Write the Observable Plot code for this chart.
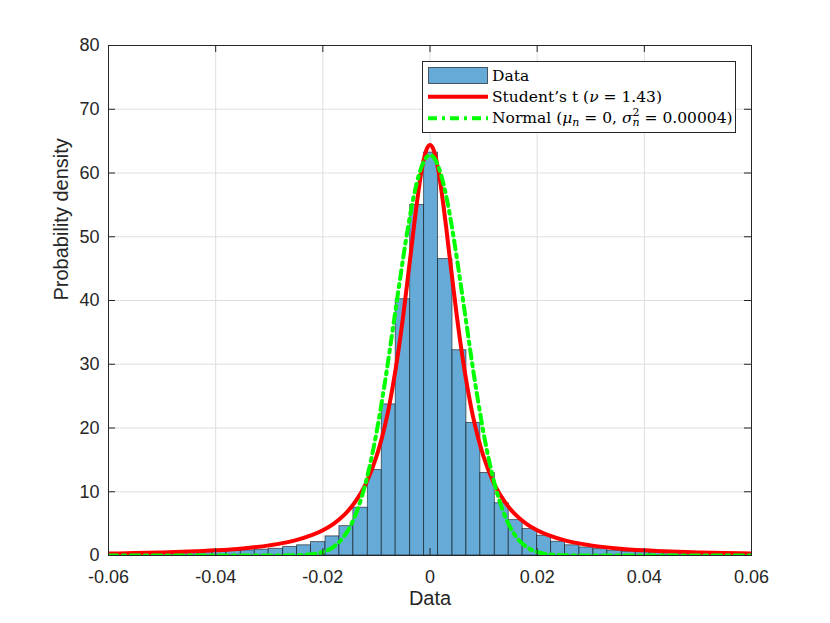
<!DOCTYPE html>
<html>
<head>
<meta charset="utf-8">
<script src="https://cdn.jsdelivr.net/npm/d3@7"></script>
<script src="https://cdn.jsdelivr.net/npm/@observablehq/plot@0.6"></script>
<style>
body { margin: 0; background: #fff; }
</style>
</head>
<body>
<div id="chart"></div>
<script>
// Histogram bin edges (data units) and normalized heights (probability density)
const binEdges = [-0.0617, -0.0590, -0.0564, -0.0538, -0.0511, -0.0485, -0.0459, -0.0432,
  -0.0406, -0.0380, -0.0353, -0.0327, -0.0301, -0.0274, -0.0248, -0.0222, -0.0195, -0.0169,
  -0.0143, -0.0116, -0.0090, -0.0064, -0.0037, -0.0011, 0.0015, 0.0042, 0.0068, 0.0094,
  0.0121, 0.0147, 0.0173, 0.0200, 0.0226, 0.0252, 0.0279, 0.0305, 0.0331, 0.0358, 0.0384,
  0.0410, 0.0437, 0.0463, 0.0489, 0.0516, 0.0542, 0.0568, 0.0595, 0.0621];
const binHeights = [0.28, 0.30, 0.32, 0.35, 0.38, 0.42, 0.47, 0.53, 0.60, 0.70, 0.80, 0.92,
  1.05, 1.35, 1.60, 2.10, 3.00, 4.60, 7.50, 13.4, 23.7, 40.2, 55.0, 63.2, 46.5, 32.2, 20.8,
  12.95, 8.20, 5.55, 4.15, 3.10, 2.15, 1.60, 1.26, 1.00, 0.76, 0.60, 0.52, 0.46, 0.41, 0.37,
  0.34, 0.31, 0.29, 0.27, 0.25];

// Student's t fit curve
const tX = [-0.06, -0.055, -0.05, -0.045, -0.04, -0.035, -0.03, -0.025, -0.02, -0.018, -0.016,
  -0.014, -0.012, -0.01, -0.009, -0.008, -0.007, -0.006, -0.005, -0.004, -0.0035, -0.003,
  -0.0025, -0.002, -0.0015, -0.001, -0.0005, 0, 0.0005, 0.001, 0.0015, 0.002, 0.0025, 0.003,
  0.0035, 0.004, 0.005, 0.006, 0.007, 0.008, 0.009, 0.01, 0.012, 0.014, 0.016, 0.018, 0.02,
  0.025, 0.03, 0.035, 0.04, 0.045, 0.05, 0.055, 0.06];
const tY = [0.31, 0.38, 0.48, 0.61, 0.81, 1.11, 1.59, 2.41, 3.96, 4.98, 6.37,
  8.36, 11.2, 15.5, 18.4, 21.9, 26.3, 31.5, 37.6, 44.5, 48.0, 51.6,
  54.96, 58.05, 60.68, 62.7, 63.97, 64.4, 63.97, 62.7, 60.68, 58.05, 54.96, 51.6,
  48.0, 44.5, 37.6, 31.5, 26.3, 21.9, 18.4, 15.5, 11.2, 8.36, 6.37, 4.98, 3.96,
  2.41, 1.59, 1.11, 0.81, 0.61, 0.48, 0.38, 0.31];

// Normal fit curve
const nX = [-0.06, -0.05, -0.04, -0.03, -0.026, -0.024, -0.022, -0.02, -0.019, -0.018, -0.017,
  -0.016, -0.015, -0.014, -0.013, -0.012, -0.011, -0.01, -0.009, -0.008, -0.007, -0.006,
  -0.005, -0.004, -0.003, -0.002, -0.001, 0, 0.001, 0.002, 0.003, 0.004, 0.005, 0.006, 0.007,
  0.008, 0.009, 0.01, 0.011, 0.012, 0.013, 0.014, 0.015, 0.016, 0.017, 0.018, 0.019, 0.02,
  0.022, 0.024, 0.026, 0.03, 0.04, 0.05, 0.06];
const nY = [0, 0, 0, 0, 0.02, 0.07, 0.2, 0.55, 0.88, 1.36, 2.05,
  3.04, 4.38, 6.17, 8.5, 11.4, 15.0, 19.2, 24.1, 29.4, 35.2, 41.0,
  46.7, 52.0, 56.5, 59.9, 62.06, 62.8, 62.06, 59.9, 56.5, 52.0, 46.7, 41.0, 35.2,
  29.4, 24.1, 19.2, 15.0, 11.4, 8.5, 6.17, 4.38, 3.04, 2.05, 1.36, 0.88, 0.55,
  0.2, 0.07, 0.02, 0, 0, 0, 0];

// Axes ticks and labels
const xTicks = [-0.06, -0.04, -0.02, 0, 0.02, 0.04, 0.06];
const xTickLabels = ["-0.06", "-0.04", "-0.02", "0", "0.02", "0.04", "0.06"];
const yTicks = [0, 10, 20, 30, 40, 50, 60, 70, 80];
const xLabel = "Data";
const yLabel = "Probability density";

const bins = binHeights.map((h, i) => ({x1: binEdges[i], x2: binEdges[i + 1], h}));
const tCurve = tX.map((x, i) => ({x, y: tY[i]}));
const nCurve = nX.map((x, i) => ({x, y: nY[i]}));
const xLabelMap = new Map(xTicks.map((d, i) => [d, xTickLabels[i]]));

const barFill = "#66aad7";
const axisColor = "#262626";

const plot = Plot.plot({
  width: 830,
  height: 623,
  marginLeft: 108,
  marginRight: 79,
  marginTop: 45,
  marginBottom: 68,
  style: {fontFamily: "'Liberation Sans', Arial, sans-serif", fontSize: "18px", color: axisColor, background: "#fff"},
  x: {domain: [-0.06, 0.06]},
  y: {domain: [0, 80]},
  marks: [
    Plot.gridX(xTicks, {stroke: "#dfdfdf", strokeOpacity: 1, strokeWidth: 1}),
    Plot.gridY(yTicks, {stroke: "#dfdfdf", strokeOpacity: 1, strokeWidth: 1}),
    Plot.rect(bins, {x1: "x1", x2: "x2", y1: 0, y2: "h", fill: barFill, stroke: "#000", strokeOpacity: 0.6, strokeWidth: 0.9, clip: true}),
    Plot.line(tCurve, {x: "x", y: "y", stroke: "#ff0000", strokeWidth: 4, curve: "monotone-x", strokeLinejoin: "round", clip: true}),
    Plot.line(nCurve, {x: "x", y: "y", stroke: "#00ff00", strokeWidth: 4, curve: "monotone-x", strokeDasharray: "9,5,3,5", clip: true}),
    Plot.frame({stroke: axisColor, strokeWidth: 1}),
    Plot.tickY(yTicks, {y: d => d, stroke: axisColor, insetRight: 636}),
    Plot.tickY(yTicks, {y: d => d, stroke: axisColor, insetLeft: 636}),
    Plot.tickX(xTicks, {x: d => d, stroke: axisColor, insetTop: 503}),
    Plot.tickX(xTicks, {x: d => d, stroke: axisColor, insetBottom: 503}),
    Plot.axisX(xTicks, {tickSize: 0, tickPadding: 15, tickFormat: d => xLabelMap.get(d), label: null, fontSize: 18}),
    Plot.axisY(yTicks, {tickSize: 0, tickPadding: 9, label: null, fontSize: 18}),
    Plot.text([xLabel], {frameAnchor: "bottom", dy: 49, fontSize: 20, fill: axisColor}),
    Plot.text([yLabel], {frameAnchor: "left", rotate: -90, dx: -47, fontSize: 20, fill: axisColor})
  ]
});

document.getElementById("chart").appendChild(plot);

// Legend (inside the axes, top-right)
const svg = d3.select(plot);
const lg = svg.append("g")
  .attr("text-anchor", "start")
  .style("text-anchor", "start")
  .style("font-family", "'DejaVu Serif', serif")
  .style("font-size", "15.5px")
  .style("white-space", "pre")
  .attr("fill", "#000");
lg.append("rect").attr("x", 422.5).attr("y", 61.5).attr("width", 313).attr("height", 71)
  .attr("fill", "#fff").attr("stroke", axisColor).attr("stroke-width", 1);
lg.append("rect").attr("x", 428.5).attr("y", 67.5).attr("width", 59).attr("height", 16)
  .attr("fill", barFill).attr("stroke", "#000").attr("stroke-opacity", 0.6);
lg.append("line").attr("x1", 428).attr("x2", 488).attr("y1", 96.7).attr("y2", 96.7)
  .attr("stroke", "#ff0000").attr("stroke-width", 4);
lg.append("line").attr("x1", 428).attr("x2", 488).attr("y1", 118.3).attr("y2", 118.3)
  .attr("stroke", "#00ff00").attr("stroke-width", 4).attr("stroke-dasharray", "9,5,3,5");

lg.append("text").attr("x", 492).attr("y", 81).text("Data");

const t2 = lg.append("text").attr("x", 492).attr("y", 102.3);
t2.append("tspan").text("Student\u2019s t (");
t2.append("tspan").style("font-style", "italic").text("\u03BD");
t2.append("tspan").text(" = 1.43)");

const t3 = lg.append("text").attr("x", 492).attr("y", 123.3);
t3.append("tspan").text("Normal (");
t3.append("tspan").style("font-style", "italic").text("\u03BC");
t3.append("tspan").style("font-style", "italic").style("font-size", "11px").attr("dy", 3).text("n");
t3.append("tspan").attr("dy", -3).text(" = 0, ");
t3.append("tspan").style("font-style", "italic").text("\u03C3");
t3.append("tspan").style("font-size", "11px").attr("dy", -7).text("2");
t3.append("tspan").style("font-style", "italic").style("font-size", "11px").attr("dx", -7).attr("dy", 10).text("n");
t3.append("tspan").attr("dy", -3).text(" = 0.00004)");
</script>
</body>
</html>
